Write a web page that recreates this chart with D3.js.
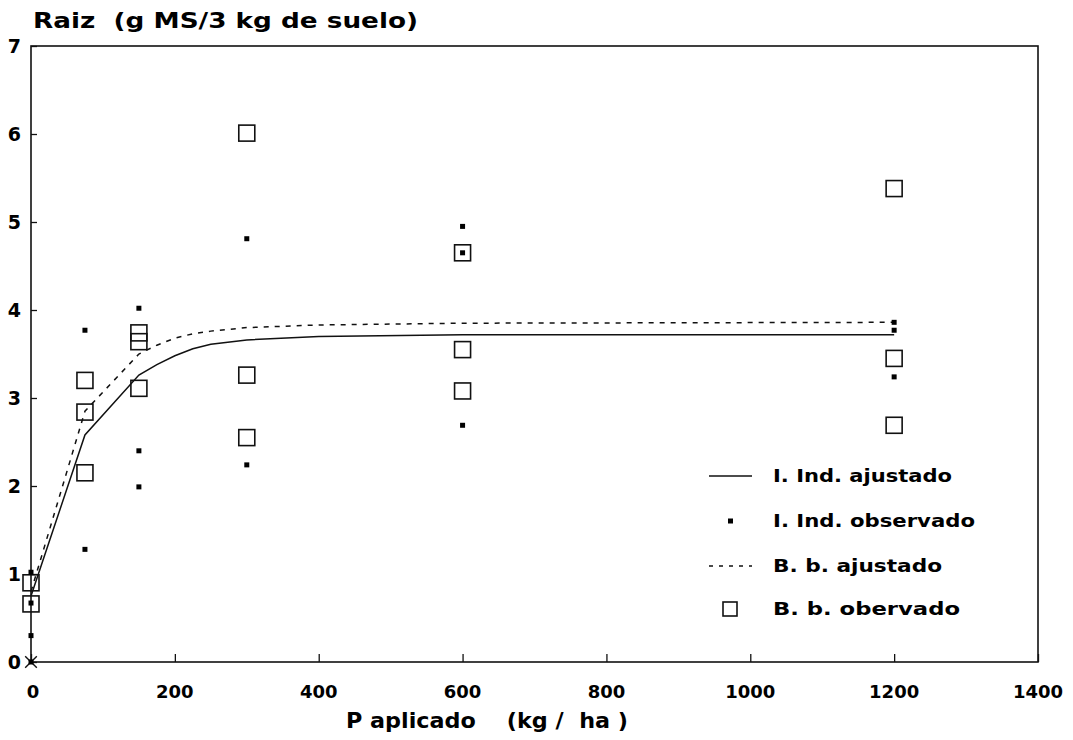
<!DOCTYPE html>
<meta charset="utf-8">
<script src="https://cdn.jsdelivr.net/npm/d3@7"></script>
<style>
body { margin: 0; background: #fff; }
text {
  fill: #000;
  font-family: "DejaVu Sans", "Liberation Sans", Arial, sans-serif;
  font-weight: bold;
  white-space: pre;
}
.fit { fill: none; stroke: #111; stroke-width: 1.5px; }
</style>
<body>
<script>
// tick labels
var xTicks = [0, 200, 400, 600, 800, 1000, 1200, 1400];
var yTicks = [0, 1, 2, 3, 4, 5, 6, 7];

// fitted curves
var fitX    = [0, 75, 150, 175, 200, 225, 250, 300, 400, 600, 1200];
var indFit  = [0.75, 2.58, 3.26, 3.38, 3.48, 3.56, 3.61, 3.66, 3.70, 3.72, 3.72];
var bbFit   = [0.80, 2.85, 3.50, 3.60, 3.68, 3.73, 3.76, 3.80, 3.83, 3.85, 3.86];

// observed points
var indObsX = [0, 0, 0, 0, 75, 75, 150, 150, 150, 300, 300, 600, 600, 600, 1200, 1200, 1200];
var indObsY = [1.02, 0.67, 0.30, 0.0, 3.77, 1.28, 4.02, 2.40, 1.99, 4.81, 2.24, 4.95, 4.65, 2.69, 3.86, 3.77, 3.24];
var bbObsX  = [0, 0, 75, 75, 75, 150, 150, 150, 300, 300, 300, 600, 600, 600, 1200, 1200, 1200];
var bbObsY  = [0.90, 0.66, 3.20, 2.84, 2.15, 3.74, 3.64, 3.11, 6.01, 3.26, 2.55, 4.65, 3.55, 3.08, 5.38, 3.45, 2.69];

var legendLabels = ["I. Ind. ajustado", "I. Ind. observado", "B. b. ajustado", "B. b. obervado"];
var legendWidths = [179, 202, 169, 187];

var width = 1073,
    height = 740;

var svg = d3.select("body").append("svg")
    .attr("width", width)
    .attr("height", height);

var x = d3.scaleLinear().domain([0, 1400]).range([31, 1038]);
var y = d3.scaleLinear().domain([0, 7]).range([662, 46]);

// frame
svg.append("rect")
    .attr("x", x(0)).attr("y", y(7))
    .attr("width", x(1400) - x(0)).attr("height", y(0) - y(7))
    .style("fill", "none").style("stroke", "#111").style("stroke-width", 1.6);

// ticks (inward)
var xAxis = svg.append("g")
    .attr("transform", "translate(0," + y(0) + ")")
    .call(d3.axisTop(x).tickValues(xTicks).tickSize(8).tickFormat(""));
xAxis.select(".domain").remove();
xAxis.selectAll("line").style("stroke", "#111").style("stroke-width", 1.3);

var yAxis = svg.append("g")
    .attr("transform", "translate(" + x(0) + ",0)")
    .call(d3.axisRight(y).tickValues(yTicks).tickSize(6).tickFormat(""));
yAxis.select(".domain").remove();
yAxis.selectAll("line").style("stroke", "#111").style("stroke-width", 1.3);

// tick labels
svg.selectAll(".xl")
    .data(xTicks)
  .enter().append("text")
    .attr("x", d => x(d) + (d == 0 ? 2 : 0))
    .attr("y", 698)
    .attr("text-anchor", "middle")
    .style("font-size", "18px")
    .text(d => d);

svg.selectAll(".yl")
    .data(yTicks)
  .enter().append("text")
    .attr("x", 21)
    .attr("y", d => y(d) + 7)
    .attr("text-anchor", "end")
    .style("font-size", "19px")
    .text(d => d);

// titles
svg.append("text")
    .attr("x", 33).attr("y", 28)
    .attr("textLength", 385).attr("lengthAdjust", "spacingAndGlyphs")
    .style("font-size", "21px")
    .text("Raiz  (g MS/3 kg de suelo)");

svg.append("text")
    .attr("x", 346).attr("y", 728)
    .attr("textLength", 282).attr("lengthAdjust", "spacingAndGlyphs")
    .style("font-size", "22px")
    .text("P aplicado    (kg /  ha )");

// fitted lines
var line = d3.line()
    .x(d => x(d[0]))
    .y(d => y(d[1]));

svg.append("path")
    .attr("class", "fit")
    .attr("d", line(d3.zip(fitX, indFit)));

svg.append("path")
    .attr("class", "fit")
    .style("stroke-dasharray", "5,6")
    .attr("d", line(d3.zip(fitX, bbFit)));

// observed: open squares
svg.append("g")
    .selectAll("rect")
    .data(d3.zip(bbObsX, bbObsY))
  .enter().append("rect")
    .attr("x", d => x(d[0]) - 8)
    .attr("y", d => y(d[1]) - 8)
    .attr("width", 16).attr("height", 16)
    .style("fill", "none")
    .style("stroke", "#111")
    .style("stroke-width", 1.6);

// crossed marker at the origin
svg.append("path")
    .attr("d", d3.symbol().type(d3.symbolX).size(90)())
    .attr("transform", "translate(" + x(0) + "," + y(0) + ")")
    .style("stroke", "#111").style("stroke-width", 1.4).style("fill", "none");

// observed: small filled squares
svg.append("g")
    .selectAll("rect")
    .data(d3.zip(indObsX, indObsY))
  .enter().append("rect")
    .attr("x", d => x(d[0]) - 2.5)
    .attr("y", d => y(d[1]) - 2.5)
    .attr("width", 5).attr("height", 5)
    .style("fill", "#000");

// legend
var legY = [476, 521, 566, 609];
var leg = svg.append("g");

leg.append("line")
    .attr("x1", 709).attr("x2", 752).attr("y1", legY[0]).attr("y2", legY[0])
    .attr("class", "fit");
leg.append("rect")
    .attr("x", 728).attr("y", legY[1] - 2.5).attr("width", 5).attr("height", 5)
    .style("fill", "#000");
leg.append("line")
    .attr("x1", 709).attr("x2", 752).attr("y1", legY[2]).attr("y2", legY[2])
    .attr("class", "fit").style("stroke-dasharray", "4,6");
leg.append("rect")
    .attr("x", 723).attr("y", legY[3] - 7).attr("width", 14).attr("height", 14)
    .style("fill", "none").style("stroke", "#111").style("stroke-width", 1.6);

leg.selectAll("text")
    .data(legendLabels)
  .enter().append("text")
    .attr("x", 773)
    .attr("y", (d, i) => legY[i] + 6)
    .attr("textLength", (d, i) => legendWidths[i])
    .attr("lengthAdjust", "spacingAndGlyphs")
    .style("font-size", "17px")
    .text(d => d);
</script>
</body>
</html>
